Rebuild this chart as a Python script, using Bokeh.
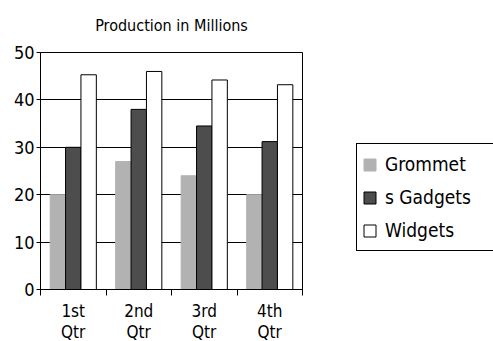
from bokeh.plotting import figure
from bokeh.models import FixedTicker, Legend, LegendItem, Range1d
from bokeh.embed import file_html
from bokeh.resources import INLINE

quarters = ["1st\nQtr", "2nd\nQtr", "3rd\nQtr", "4th\nQtr"]
series_names = ["Grommet", "s Gadgets", "Widgets"]
grommet = [20, 27, 24, 20]
gadgets = [30, 38, 34.5, 31.2]
widgets = [45.3, 46, 44.2, 43.2]
y_ticks = [0, 10, 20, 30, 40, 50]

FONT = "DejaVu Sans Condensed, Liberation Sans"

p = figure(frame_width=262, frame_height=237, output_backend="svg", toolbar_location=None,
           x_range=Range1d(0, len(quarters)), y_range=Range1d(0, 50),
           min_border_left=40, min_border_right=10, min_border_top=0, min_border_bottom=52,
           title="Production in Millions")
p.title.align = "center"
p.title.vertical_align = "top"
p.title.text_font = FONT
p.title.text_font_size = "16px"
p.title.text_font_style = "normal"
p.title.text_color = "black"
p.title.standoff = 31

n = len(quarters)
bw = 0.235
colors = ["#b2b2b2", "#4d4d4d", "#ffffff"]
lines = ["#b2b2b2", "black", "black"]
renderers = []
for k, vals in enumerate([grommet, gadgets, widgets]):
    xs = [i + 0.5 + (k - 1) * bw for i in range(n)]
    r = p.vbar(x=xs, top=vals, bottom=0, width=bw, fill_color=colors[k],
               line_color=lines[k], line_width=1)
    renderers.append(r)

# axes
p.xaxis.ticker = FixedTicker(ticks=[i + 0.5 for i in range(n)], minor_ticks=list(range(n + 1)))
p.xaxis.major_label_overrides = {i + 0.5: q for i, q in enumerate(quarters)}
p.xaxis.major_tick_out = 0
p.xaxis.major_tick_in = 0
p.xaxis.minor_tick_out = 6
p.xaxis.minor_tick_in = 0
p.xaxis.minor_tick_line_color = "black"
p.xaxis.axis_line_color = "black"
p.xaxis.major_label_text_font = FONT
p.xaxis.major_label_text_font_size = "17px"
p.xaxis.major_label_text_color = "black"
p.xaxis.major_label_standoff = 5
p.xaxis.major_label_text_line_height = 1.05

p.yaxis.ticker = FixedTicker(ticks=y_ticks)
p.yaxis.minor_tick_line_color = None
p.yaxis.major_tick_out = 4
p.yaxis.major_tick_in = 0
p.yaxis.major_tick_line_color = "black"
p.yaxis.axis_line_color = "black"
p.yaxis.major_label_text_font = FONT
p.yaxis.major_label_text_font_size = "18px"
p.yaxis.major_label_text_color = "black"
p.yaxis.major_label_standoff = 2

p.xgrid.grid_line_color = None
p.ygrid.ticker = FixedTicker(ticks=y_ticks)
p.ygrid.grid_line_color = "black"
p.ygrid.grid_line_alpha = 1
p.outline_line_color = "black"
p.outline_line_alpha = 1

legend = Legend(items=[LegendItem(label=nm, renderers=[r]) for nm, r in zip(series_names, renderers)],
                location=(54, 38))
legend.border_line_color = "black"
legend.border_line_alpha = 1
legend.background_fill_alpha = 1
legend.label_text_font = FONT
legend.label_text_font_size = "19px"
legend.label_text_color = "black"
legend.glyph_width = 15
legend.glyph_height = 15
legend.label_height = 30
legend.label_width = 103
legend.spacing = 3
legend.padding = 5
legend.margin = 0
legend.label_standoff = 8
p.add_layout(legend, "right")

open("out.html", "w").write(file_html(p, INLINE))
